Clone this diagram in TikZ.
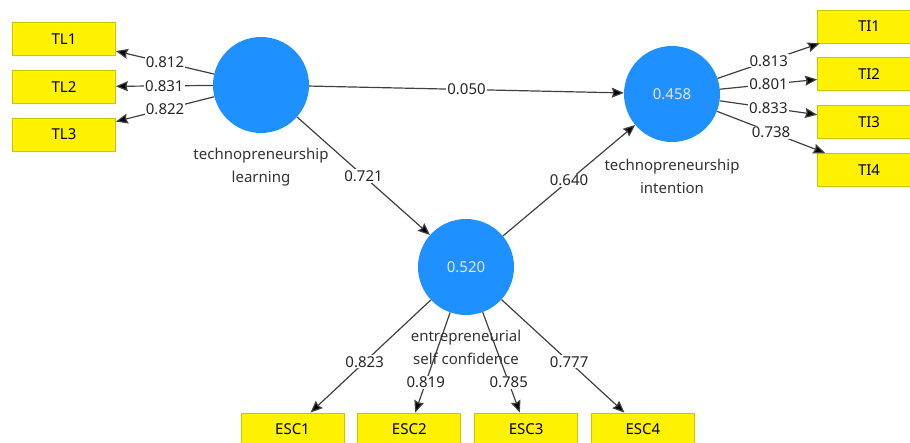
\documentclass[tikz,border=0pt]{standalone}
\usepackage{fontspec}
\setmainfont{Noto Sans}
\usepackage{tikz}
\usetikzlibrary{arrows.meta,positioning}

\definecolor{lvblue}{RGB}{30,144,255}
\definecolor{boxline}{RGB}{200,200,0}

\begin{document}
\begin{tikzpicture}[x=1pt, y=-1pt, >={Stealth[length=12pt, width=10pt, inset=1.5pt, fill=black]},
        lv/.style={circle, fill=lvblue, minimum size=96pt, inner sep=0pt, text=white!90!blue, font=\fontsize{15}{18}\selectfont},
        ind/.style={rectangle, fill=yellow, draw=boxline, line width=0.8pt, minimum width=103pt, minimum height=33pt, inner sep=0pt, font=\fontsize{15}{18}\selectfont},
        lvname/.style={align=center, text=black!80, inner sep=2pt, font=\fontsize{15}{22.5}\selectfont},
        val/.style={fill=white, inner sep=1pt, text=black!85, font=\fontsize{15}{18}\selectfont},
        load/.style={->, draw=black!75, line width=1.2pt}]

        \useasboundingbox (0,0) rectangle (910,443);

        \node[lv] (tl) at (261,85) {};
        \node[lv] (ti) at (672,94) {0.458};
        \node[lv] (esc) at (466,267) {0.520};

        \node[ind] (tl1) at (64,39) {TL1};
        \node[ind, below=14pt of tl1] (tl2) {TL2};
        \node[ind, below=14pt of tl2] (tl3) {TL3};

        \node[ind] (ti1) at (869,26.5) {TI1};
        \node[ind, below=14pt of ti1] (ti2) {TI2};
        \node[ind, below=14pt of ti2] (ti3) {TI3};
        \node[ind, below=14pt of ti3] (ti4) {TI4};

        \node[ind] (esc1) at (292.5,429.5) {ESC1};
        \node[ind, right=13pt of esc1] (esc2) {ESC2};
        \node[ind, right=13pt of esc2] (esc3) {ESC3};
        \node[ind, right=13pt of esc3] (esc4) {ESC4};

        \draw[load] (tl) -- node[val]{0.812} (tl1);
        \draw[load] (tl) -- node[val]{0.831} (tl2);
        \draw[load] (tl) -- node[val]{0.822} (tl3);

        \draw[load] (ti) -- node[val]{0.813} (ti1);
        \draw[load] (ti) -- node[val]{0.801} (ti2);
        \draw[load] (ti) -- node[val]{0.833} (ti3);
        \draw[load] (ti) -- node[val]{0.738} (ti4);

        \draw[load] (esc) -- node[val, pos=0.55]{0.823} (esc1);
        \draw[load] (esc) -- node[val, pos=0.7]{0.819} (esc2);
        \draw[load] (esc) -- node[val, pos=0.7]{0.785} (esc3);
        \draw[load] (esc) -- node[val, pos=0.55]{0.777} (esc4);

        \draw[load] (tl) -- node[val]{0.050} (ti);
        \draw[load] (tl) -- node[val]{0.721} (esc);
        \draw[load] (esc) -- node[val]{0.640} (ti);

        \node[lvname, below=13pt of tl] (tlname) {technopreneurship\\learning};
        \node[lvname, below=15pt of ti] (tiname) {technopreneurship\\intention};
        \node[lvname, below=13pt of esc] (escname) {entrepreneurial\\self confidence};

    \end{tikzpicture}
\end{document}
